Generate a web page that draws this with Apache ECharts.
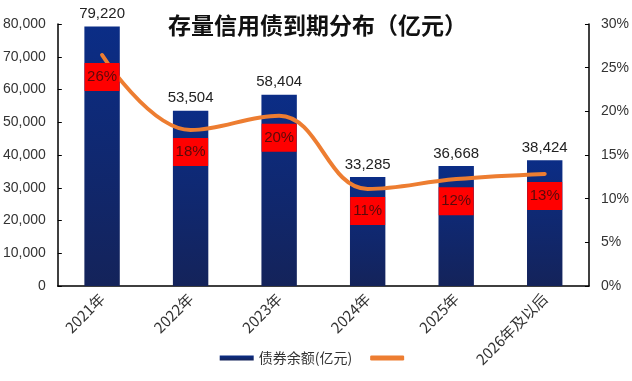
<!DOCTYPE html>
<html>
<head>
<meta charset="utf-8">
<script src="https://cdn.jsdelivr.net/npm/echarts@6/dist/echarts.min.js"></script>
<style>html,body{margin:0;padding:0;background:#fff;}#c{width:632px;height:381px;}</style>
</head>
<body>
<div id="c"></div>
<script>
const categories = ['2021年', '2022年', '2023年', '2024年', '2025年', '2026年及以后'];
const balances = [79220, 53504, 58404, 33285, 36668, 38424];
const shares = [26.45, 17.86, 19.50, 11.11, 12.24, 12.83];
const leftTicks = [0, 80000, 10000];
const rightTicks = [0, 30, 5];

const chart = echarts.init(document.getElementById('c'), null, {renderer: 'canvas'});
const font = 'Liberation Sans, Arial, sans-serif';
chart.setOption({
  animation: false,
  backgroundColor: '#fff',
  title: {
    text: '存量信用债到期分布（亿元）',
    left: 163, top: 9,
    textStyle: {fontFamily: 'Noto Sans CJK SC', fontSize: 23, fontWeight: 'bold', color: '#111'}
  },
  legend: {
    bottom: 11, left: 'center',
    itemWidth: 34, itemHeight: 5, itemGap: 18,
    textStyle: {fontFamily: 'Noto Sans CJK SC, ' + font, fontSize: 14, color: '#333'},
    data: [{name: '债券余额(亿元)', icon: 'rect'},
           {name: ' ', icon: 'roundRect', itemStyle: {color: '#ED7D31', opacity: 1}}]
  },
  grid: {left: 57, right: 43, top: 24, bottom: 95},
  xAxis: {
    type: 'category', data: categories, boundaryGap: true,
    axisLine: {lineStyle: {color: '#000', width: 1.5}},
    axisTick: {inside: true, length: 4, lineStyle: {color: '#000'}},
    axisLabel: {rotate: 45, fontSize: 15, color: '#333', fontFamily: 'Noto Sans CJK SC, ' + font, margin: 10}
  },
  yAxis: [{
    type: 'value', min: leftTicks[0], max: leftTicks[1], interval: leftTicks[2],
    splitLine: {show: false},
    axisLine: {show: true, lineStyle: {color: '#000', width: 1.5}},
    axisTick: {show: true, inside: true, length: 4, lineStyle: {color: '#000'}},
    axisLabel: {fontSize: 14, color: '#333', fontFamily: font, margin: 12,
      formatter: v => v.toLocaleString('en-US')}
  }, {
    type: 'value', min: rightTicks[0], max: rightTicks[1], interval: rightTicks[2],
    splitLine: {show: false},
    axisLine: {show: true, lineStyle: {color: '#000', width: 1.5}},
    axisTick: {show: true, inside: true, length: 4, lineStyle: {color: '#000'}},
    axisLabel: {fontSize: 14, color: '#333', fontFamily: font, margin: 12, formatter: '{value}%'}
  }],
  series: [{
    name: '债券余额(亿元)', type: 'bar', data: balances, barWidth: '40%',
    itemStyle: {color: new echarts.graphic.LinearGradient(0, 0, 0, 1, [
      {offset: 0, color: '#0B2D86'}, {offset: 1, color: '#14235A'}])},
    label: {show: true, position: 'top', distance: 5, fontSize: 15, color: '#222', fontFamily: font,
      formatter: p => p.value.toLocaleString('en-US')}
  }, {
    name: ' ', type: 'line', yAxisIndex: 1, data: shares, smooth: 0.4,
    symbol: 'circle', symbolSize: 0.1, showSymbol: true, z: 3,
    lineStyle: {color: '#ED7D31', width: 4, cap: 'round'},
    itemStyle: {color: '#ED7D31'},
    labelLayout: {hideOverlap: false},
    label: {show: true, position: 'bottom', distance: 8, fontSize: 15, color: '#5a0a0a', fontFamily: font,
      backgroundColor: '#FF0000', width: 23, lineHeight: 16, align: 'center',
      padding: [6, 6, 6, 6],
      formatter: p => Math.round(p.value) + '%'}
  }]
});
</script>
</body>
</html>
